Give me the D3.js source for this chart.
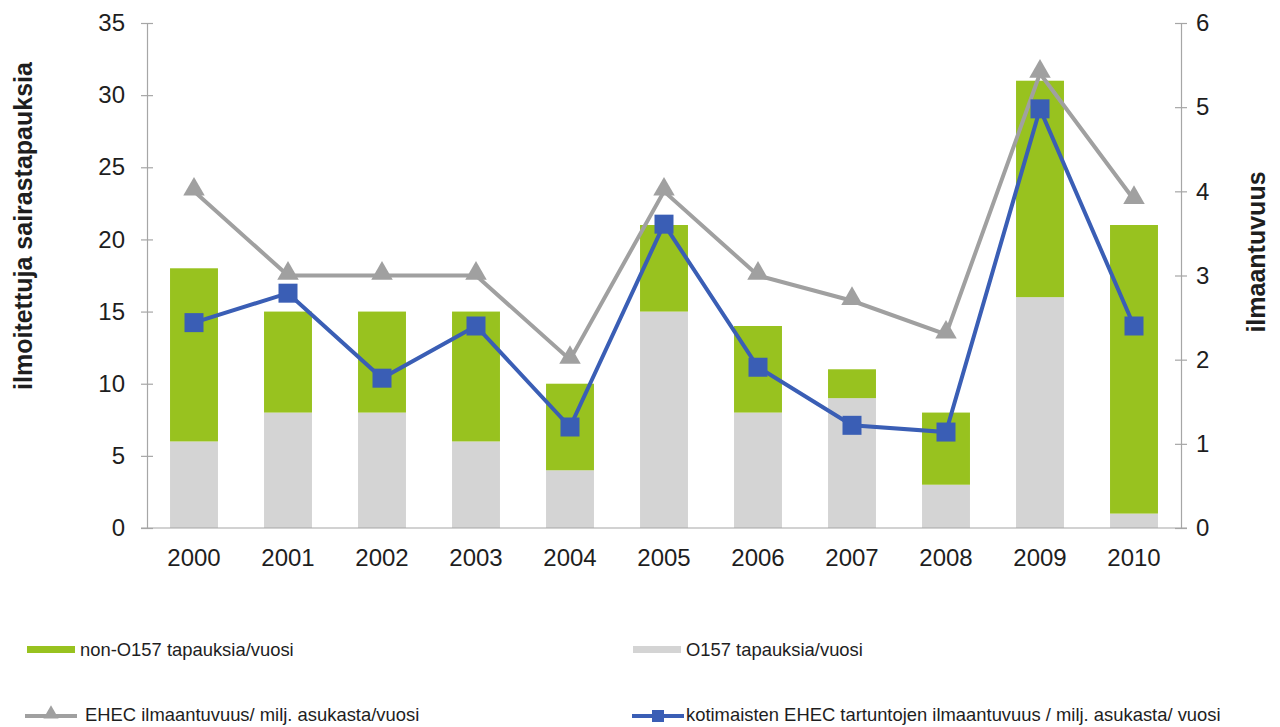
<!DOCTYPE html>
<html><head><meta charset="utf-8">
<script src="https://cdn.jsdelivr.net/npm/d3@7"></script>
<style>body{margin:0;background:#fff;}svg{display:block;font-family:"Liberation Sans",Arial,sans-serif;}</style>
</head><body><svg id="c" width="1280" height="727"></svg>
<script>
const years = ["2000","2001","2002","2003","2004","2005","2006","2007","2008","2009","2010"];
const o157 = [6,8,8,6,4,15,8,9,3,16,1];
const nonO157 = [12,7,7,9,6,6,6,2,5,15,20];
const ehec = [4.0,3.0,3.0,3.0,2.0,4.0,3.0,2.7,2.3,5.4,3.9];
const domestic = [2.44,2.79,1.78,2.40,1.2,3.61,1.91,1.22,1.14,4.98,2.4];
const leftTicks = [0,5,10,15,20,25,30,35];
const rightTicks = [0,1,2,3,4,5,6];

const svg = d3.select("#c");
const L = 147, R = 1181, T = 23, B = 528;
const x = d3.scaleBand().domain(years).range([L, R]).paddingInner(0.49).paddingOuter(0.245);
const yL = d3.scaleLinear().domain([0,35]).range([B, T]);
const yR = d3.scaleLinear().domain([0,6]).range([B, T]);
const axisCol = "#a6a6a6";
const txtCol = "#1e1e1e";

// bars
const g = svg.append("g");
g.selectAll(".o").data(years).join("rect")
  .attr("x", d => x(d)).attr("width", x.bandwidth())
  .attr("y", (d,i) => yL(o157[i])).attr("height", (d,i) => B - yL(o157[i]))
  .attr("fill", "#d4d4d4");
g.selectAll(".n").data(years).join("rect")
  .attr("x", d => x(d)).attr("width", x.bandwidth())
  .attr("y", (d,i) => yL(o157[i] + nonO157[i])).attr("height", (d,i) => yL(o157[i]) - yL(o157[i] + nonO157[i]))
  .attr("fill", "#98c21f");

// axes
const la = svg.append("g").attr("transform", `translate(${L},0)`)
  .call(d3.axisLeft(yL).tickValues(leftTicks).tickSize(6).tickPadding(16).tickSizeOuter(0));
la.selectAll(".tick line").attr("x2", 6).attr("x1", -6);
const ra = svg.append("g").attr("transform", `translate(${R},0)`)
  .call(d3.axisRight(yR).tickValues(rightTicks).tickFormat(d3.format("d")).tickSize(6).tickPadding(9).tickSizeOuter(0));
ra.selectAll(".tick line").attr("x1", -6).attr("x2", 6);
const xa = svg.append("g").attr("transform", `translate(0,${B})`)
  .call(d3.axisBottom(x).tickSize(0).tickPadding(21).tickSizeOuter(0));
xa.select(".domain").attr("d", `M${L-6},0H${R+6}`);
[la, ra, xa].forEach(a => {
  a.selectAll("path, line").attr("stroke", axisCol).attr("stroke-width", 1.2);
  a.selectAll("text").attr("font-size", 24).attr("fill", txtCol).attr("font-family", '"Liberation Sans",Arial,sans-serif');
});

// lines
const cx = d => x(d) + x.bandwidth()/2;
const lineE = d3.line().x((d,i) => cx(years[i])).y(d => yR(d));
svg.append("path").datum(ehec).attr("d", lineE).attr("fill","none").attr("stroke","#a0a0a0").attr("stroke-width",4);
svg.selectAll(".tri").data(ehec).join("path")
  .attr("d", d3.symbol().type(d3.symbolTriangle).size(200))
  .attr("transform", (d,i) => `translate(${cx(years[i])},${yR(d)-2})`)
  .attr("fill", "#a0a0a0");
svg.append("path").datum(domestic).attr("d", lineE).attr("fill","none").attr("stroke","#3a5eb5").attr("stroke-width",4);
svg.selectAll(".sq").data(domestic).join("rect")
  .attr("x", (d,i) => cx(years[i]) - 9.5).attr("y", d => yR(d) - 9.5)
  .attr("width", 19).attr("height", 19).attr("fill", "#3a5eb5");

// axis titles
svg.append("text").attr("transform","translate(32,226) rotate(-90)").attr("text-anchor","middle")
  .attr("font-size",25).attr("font-weight","bold").attr("fill",txtCol).text("ilmoitettuja sairastapauksia");
svg.append("text").attr("transform","translate(1265,252) rotate(-90)").attr("text-anchor","middle")
  .attr("font-size",25).attr("font-weight","bold").attr("fill",txtCol).text("ilmaantuvuus");

// legend
const lg = svg.append("g").attr("font-size",18.4).attr("fill",txtCol);
lg.append("rect").attr("x",27).attr("y",646).attr("width",48).attr("height",7).attr("fill","#98c21f");
lg.append("text").attr("x",80).attr("y",656).text("non-O157 tapauksia/vuosi");
lg.append("rect").attr("x",633).attr("y",646).attr("width",48).attr("height",7).attr("fill","#d4d4d4");
lg.append("text").attr("x",686).attr("y",656).text("O157 tapauksia/vuosi");
lg.append("line").attr("x1",25).attr("x2",77).attr("y1",716).attr("y2",716).attr("stroke","#a0a0a0").attr("stroke-width",4);
lg.append("path").attr("d", d3.symbol().type(d3.symbolTriangle).size(100)).attr("transform","translate(51,714)").attr("fill","#a0a0a0");
lg.append("text").attr("x",85).attr("y",721).text("EHEC ilmaantuvuus/ milj. asukasta/vuosi");
lg.append("line").attr("x1",632).attr("x2",684).attr("y1",716).attr("y2",716).attr("stroke","#3a5eb5").attr("stroke-width",4);
lg.append("rect").attr("x",652).attr("y",710).attr("width",12).attr("height",12).attr("fill","#3a5eb5");
lg.append("text").attr("x",686).attr("y",721).text("kotimaisten EHEC tartuntojen ilmaantuvuus / milj. asukasta/ vuosi");
</script></body></html>
